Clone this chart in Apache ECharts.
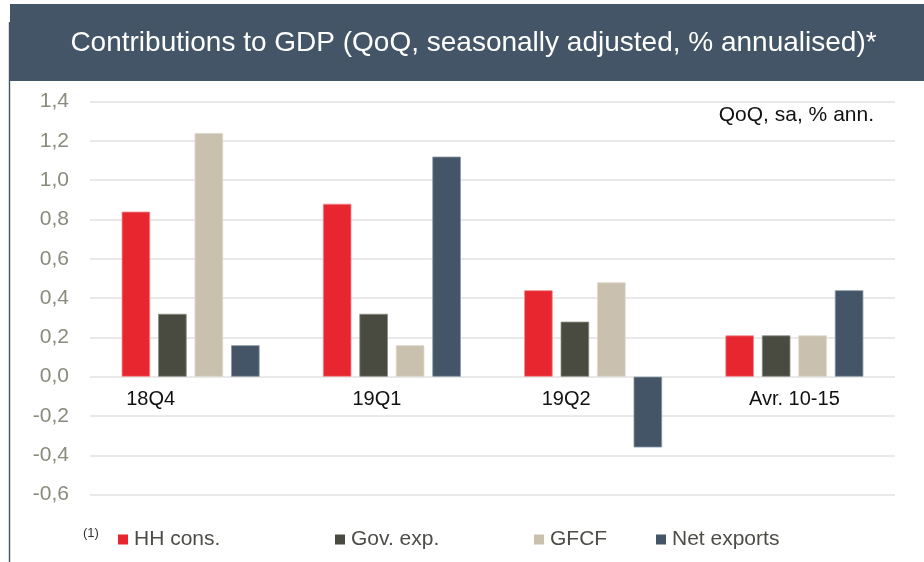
<!DOCTYPE html>
<html>
<head>
<meta charset="utf-8">
<script src="https://cdn.jsdelivr.net/npm/echarts@6/dist/echarts.min.js"></script>
<style>
  html, body { margin: 0; padding: 0; background: #ffffff; }
  #chart { width: 924px; height: 562px; }
</style>
</head>
<body>
<div id="chart"></div>
<script>
// Quarters shown on the category axis
var categories = ['18Q4', '19Q1', '19Q2', 'Avr. 10-15'];

// Contributions to GDP growth, pp (QoQ, sa, % annualised)
var hhCons     = [0.84, 0.88, 0.44, 0.21];
var govExp     = [0.32, 0.32, 0.28, 0.21];
var gfcf       = [1.24, 0.16, 0.48, 0.21];
var netExports = [0.16, 1.12, -0.36, 0.44];

var seriesNames = ['HH cons.', 'Gov. exp.', 'GFCF', 'Net exports'];

// Value axis ticks
var yTicks = [-0.6, -0.4, -0.2, 0.0, 0.2, 0.4, 0.6, 0.8, 1.0, 1.2, 1.4];

var FONT = "'Liberation Sans', Arial, Helvetica, sans-serif";
var colors = ['#e8262f', '#4a4b40', '#c9c1ae', '#435566'];
var borders = ['#f08a8e', '#8a8b80', '#ddd7ca', '#8896a4'];

// Category labels sit a little left of the group centre in this layout
var labelShift = [80, 30, 54, 0];

var GRID_TOP = 101.6, GRID_BOTTOM = 67.4, CHART_H = 562;
var yMin = yTicks[0], yMax = yTicks[yTicks.length - 1];
// distance from the bottom of the plot up to the zero line
var plotH = CHART_H - GRID_TOP - GRID_BOTTOM;
var zeroLift = plotH * (0 - yMin) / (yMax - yMin);

var chart = echarts.init(document.getElementById('chart'), null, { renderer: 'canvas' });

function makeBar(name, data, i) {
  return {
    name: name,
    type: 'bar',
    data: data,
    barWidth: 28.5,
    barGap: '28%',
    itemStyle: { color: colors[i], borderColor: borders[i], borderWidth: 0.8 },
    emphasis: { disabled: true }
  };
}

var legendLeft = [118, 335, 534, 656];

var option = {
  animation: false,
  backgroundColor: '#ffffff',
  textStyle: { fontFamily: FONT },
  grid: { left: 90, right: 29, top: GRID_TOP, bottom: GRID_BOTTOM, containLabel: false },
  legend: seriesNames.map(function (n, i) {
    return {
      data: [n],
      left: legendLeft[i],
      top: 529,
      padding: 0,
      icon: 'rect',
      itemWidth: 10,
      itemHeight: 10,
      itemGap: 0,
      selectedMode: false,
      itemStyle: { borderWidth: 0 },
      textStyle: { fontFamily: FONT, fontSize: 21, color: '#4d4d48', padding: [0, 0, 0, 1] }
    };
  }),
  xAxis: {
    type: 'category',
    position: 'bottom',
    offset: -zeroLift,
    data: categories.map(function (c, i) {
      return { value: c, textStyle: { padding: [0, labelShift[i], 0, 0] } };
    }),
    axisLine: { show: false, onZero: false },
    axisTick: { show: false },
    splitLine: { show: false },
    axisLabel: {
      fontFamily: FONT,
      fontSize: 20,
      color: '#111111',
      margin: 13,
      interval: 0
    }
  },
  yAxis: {
    type: 'value',
    min: yMin,
    max: yMax,
    interval: 0.2,
    axisLine: { show: false },
    axisTick: { show: false },
    splitLine: { lineStyle: { color: '#e2e2e2', width: 1.6 } },
    axisLabel: {
      fontFamily: FONT,
      fontSize: 21,
      color: '#8a8b7d',
      margin: 21,
      formatter: function (v) {
        return (Math.round(v * 10) / 10).toFixed(1).replace('.', ',');
      }
    }
  },
  series: [
    makeBar(seriesNames[0], hhCons, 0),
    makeBar(seriesNames[1], govExp, 1),
    makeBar(seriesNames[2], gfcf, 2),
    makeBar(seriesNames[3], netExports, 3)
  ],
  graphic: [
    // header band
    {
      type: 'rect',
      shape: { x: 10, y: 4, width: 914, height: 77 },
      style: { fill: '#435566' },
      silent: true,
      z: 0
    },
    {
      type: 'text',
      x: 473.5,
      y: 43,
      style: {
        text: 'Contributions to GDP (QoQ, seasonally adjusted, % annualised)*',
        fill: '#ffffff',
        font: '28px ' + FONT,
        textAlign: 'center',
        textVerticalAlign: 'middle'
      },
      silent: true,
      z: 1
    },
    // left frame line
    {
      type: 'line',
      shape: { x1: 9.5, y1: 22, x2: 9.5, y2: 562 },
      style: { stroke: '#435566', lineWidth: 1.4 },
      silent: true
    },
    {
      type: 'text',
      x: 874,
      y: 115,
      style: {
        text: 'QoQ, sa, % ann.',
        fill: '#111111',
        font: '21px ' + FONT,
        textAlign: 'right',
        textVerticalAlign: 'middle'
      },
      silent: true
    },
    {
      type: 'text',
      x: 83,
      y: 533,
      style: {
        text: '(1)',
        fill: '#333333',
        font: '13px ' + FONT,
        textAlign: 'left',
        textVerticalAlign: 'middle'
      },
      silent: true
    }
  ]
};

chart.setOption(option);
</script>
</body>
</html>
